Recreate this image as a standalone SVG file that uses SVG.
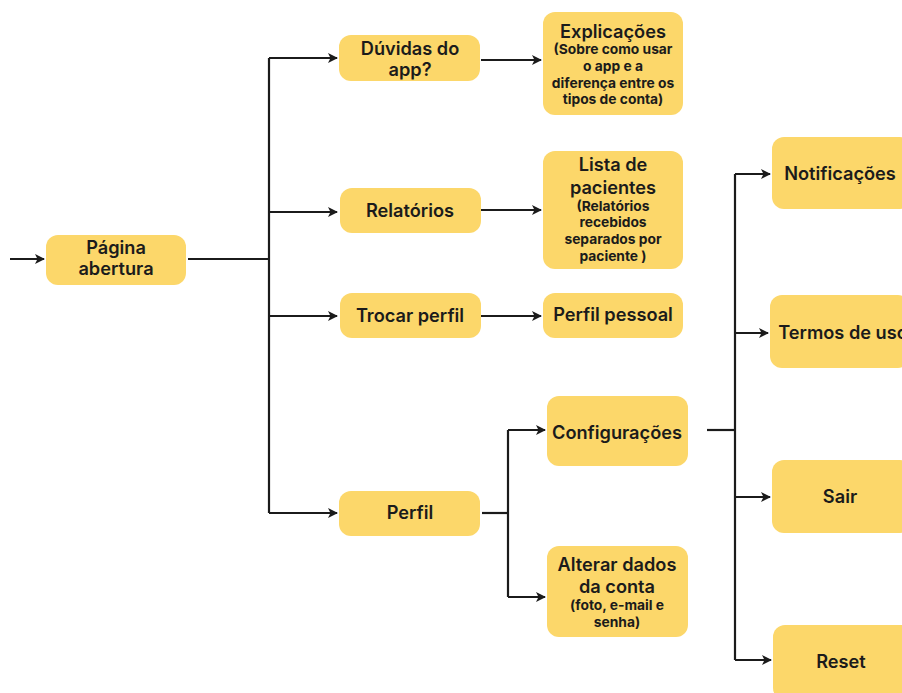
<svg xmlns="http://www.w3.org/2000/svg" width="902" height="693" viewBox="0 0 902 693">
  <defs>
    <marker id="arrow" viewBox="0 0 10 10" refX="9" refY="5" markerWidth="10" markerHeight="10" markerUnits="userSpaceOnUse" orient="auto">
      <path d="M0,0 L10,5 L0,10 L2.5,5 Z" fill="#1b1b1b"/>
    </marker>
  </defs>
  <style>
    .box { fill: #FCD76A; }
    .t { font-family: Inter, "Liberation Sans", sans-serif; font-weight: 700; fill: #1b1b1b; text-anchor: middle; dominant-baseline: central; }
    .h { font-size: 18.2px; font-weight: 600; }
    .s { font-size: 13.8px; }
    .c { fill: none; stroke: #1b1b1b; stroke-width: 2.2; }
  </style>
  <rect width="902" height="693" fill="#ffffff"/>

  <g id="connectors">
    <path class="c" d="M10,259 H44" marker-end="url(#arrow)"/>
    <path class="c" d="M188,259 H269"/>
    <path class="c" d="M269,58 V513"/>
    <path class="c" d="M269,58 H337" marker-end="url(#arrow)"/>
    <path class="c" d="M269,212 H337" marker-end="url(#arrow)"/>
    <path class="c" d="M269,316 H337" marker-end="url(#arrow)"/>
    <path class="c" d="M269,513 H337" marker-end="url(#arrow)"/>
    <path class="c" d="M481,60 H541" marker-end="url(#arrow)"/>
    <path class="c" d="M481,210 H541" marker-end="url(#arrow)"/>
    <path class="c" d="M481,316 H541" marker-end="url(#arrow)"/>
    <path class="c" d="M482,513 H508"/>
    <path class="c" d="M508,430 V597"/>
    <path class="c" d="M508,430 H545" marker-end="url(#arrow)"/>
    <path class="c" d="M508,597 H545" marker-end="url(#arrow)"/>
    <path class="c" d="M707,430 H735"/>
    <path class="c" d="M735,174 V660"/>
    <path class="c" d="M735,174 H770" marker-end="url(#arrow)"/>
    <path class="c" d="M735,333 H768" marker-end="url(#arrow)"/>
    <path class="c" d="M735,497 H770" marker-end="url(#arrow)"/>
    <path class="c" d="M735,660 H771" marker-end="url(#arrow)"/>
  </g>

  <g id="pagina-abertura">
    <rect class="box" x="46" y="235" width="140" height="50" rx="12"/>
    <text class="t h" x="116" y="247">Página</text>
    <text class="t h" x="116" y="268">abertura</text>
  </g>

  <g id="duvidas">
    <rect class="box" x="339" y="35" width="141" height="46" rx="12"/>
    <text class="t h" x="410" y="48">Dúvidas do</text>
    <text class="t h" x="410" y="69">app?</text>
  </g>

  <g id="relatorios">
    <rect class="box" x="340" y="188" width="141" height="45" rx="12"/>
    <text class="t h" x="410" y="210">Relatórios</text>
  </g>

  <g id="trocar-perfil">
    <rect class="box" x="340" y="293" width="141" height="45" rx="12"/>
    <text class="t h" x="410" y="315">Trocar perfil</text>
  </g>

  <g id="perfil">
    <rect class="box" x="339" y="491" width="141" height="45" rx="12"/>
    <text class="t h" x="410" y="512">Perfil</text>
  </g>

  <g id="explicacoes">
    <rect class="box" x="543" y="12" width="140" height="103" rx="12"/>
    <text class="t h" x="613" y="31">Explicações</text>
    <text class="t s" x="613" y="49">(Sobre como usar</text>
    <text class="t s" x="613" y="66">o app e a</text>
    <text class="t s" x="613" y="83">diferença entre os</text>
    <text class="t s" x="613" y="99">tipos de conta)</text>
  </g>

  <g id="lista-pacientes">
    <rect class="box" x="543" y="151" width="140" height="118" rx="12"/>
    <text class="t h" x="613" y="164">Lista de</text>
    <text class="t h" x="613" y="187">pacientes</text>
    <text class="t s" x="613" y="206">(Relatórios</text>
    <text class="t s" x="613" y="222">recebidos</text>
    <text class="t s" x="613" y="239">separados por</text>
    <text class="t s" x="613" y="256">paciente )</text>
  </g>

  <g id="perfil-pessoal">
    <rect class="box" x="543" y="293" width="140" height="45" rx="12"/>
    <text class="t h" x="613" y="314">Perfil pessoal</text>
  </g>

  <g id="configuracoes">
    <rect class="box" x="547" y="396" width="141" height="70" rx="12"/>
    <text class="t h" x="617" y="432">Configurações</text>
  </g>

  <g id="alterar-dados">
    <rect class="box" x="547" y="546" width="141" height="91" rx="12"/>
    <text class="t h" x="617" y="564">Alterar dados</text>
    <text class="t h" x="617" y="586">da conta</text>
    <text class="t s" x="617" y="605">(foto, e-mail e</text>
    <text class="t s" x="617" y="622">senha)</text>
  </g>

  <g id="notificacoes">
    <rect class="box" x="772" y="137" width="140" height="72" rx="12"/>
    <text class="t h" x="840" y="173">Notificações</text>
  </g>

  <g id="termos-de-uso">
    <rect class="box" x="770" y="295" width="140" height="73" rx="12"/>
    <text class="t h" x="843" y="332">Termos de uso</text>
  </g>

  <g id="sair">
    <rect class="box" x="772" y="460" width="140" height="73" rx="12"/>
    <text class="t h" x="840" y="496">Sair</text>
  </g>

  <g id="reset">
    <rect class="box" x="773" y="625" width="140" height="75" rx="12"/>
    <text class="t h" x="841" y="661">Reset</text>
  </g>
</svg>
